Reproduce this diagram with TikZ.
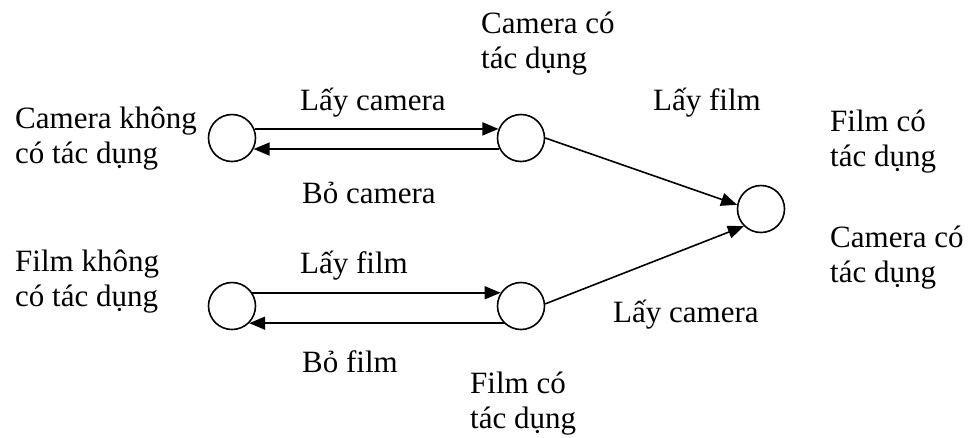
\documentclass[tikz,border=0pt]{standalone}
\usepackage{fontspec}
\setmainfont{Liberation Serif}
\usetikzlibrary{arrows.meta}

\tikzset{
  state/.style={draw,circle,minimum size=47pt,inner sep=0pt,line width=1.6pt},
  lbl/.style={anchor=base west,inner sep=0pt,align=left,font=\fontsize{31}{35}\selectfont},
  trans/.style={line width=1.6pt,-{Triangle[length=16pt,width=13pt]}}
}

\begin{document}
\begin{tikzpicture}[x=1pt,y=-1pt]
        \useasboundingbox (0,0) rectangle (969,437);

        % camera
        \coordinate (A) at (232,138);
        \coordinate (B) at (521,138);
        \node[state] (camnot) at (A) {};
        \node[state] (camok) at (B) {};
        \draw[trans] (camnot.22)--(camok.158);
        \draw[trans] (camok.207)--(camnot.333);

        % film
        \coordinate (D) at (232,306);
        \coordinate (E) at (521,306);
        \node[state] (filmnot) at (D) {};
        \node[state] (filmok) at (E) {};
        \draw[trans] (filmnot.33)--(filmok.147);
        \draw[trans] (filmok.225)--(filmnot.315);

        % both available
        \coordinate (C) at (761,209);
        \node[state] (both) at (C) {};
        \draw[trans] (camok.0)--(both.170);
        \draw[trans] (filmok.5)--(both.225);

        % labels (base = last line)
        \node[lbl] (tcamnot) at (15,163) {Camera không\\có tác dụng};
        \node[lbl] (tcamok) at (481,68) {Camera có\\tác dụng};
        \node[lbl] (tgetcam) at (300,110) {Lấy camera};
        \node[lbl] (tdropcam) at (302,203) {Bỏ camera};
        \node[lbl] (tgetfilmA) at (653,110) {Lấy film};
        \node[lbl] (tfilmokA) at (830,166) {Film có\\tác dụng};
        \node[lbl] (tcamokB) at (830,282) {Camera có\\tác dụng};
        \node[lbl] (tfilmnot) at (15,306) {Film không\\có tác dụng};
        \node[lbl] (tgetfilm) at (300,273) {Lấy film};
        \node[lbl] (tdropfilm) at (302,372) {Bỏ film};
        \node[lbl] (tgetcamB) at (613,322) {Lấy camera};
        \node[lbl] (tfilmok) at (470,428) {Film có\\tác dụng};
\end{tikzpicture}
\end{document}
